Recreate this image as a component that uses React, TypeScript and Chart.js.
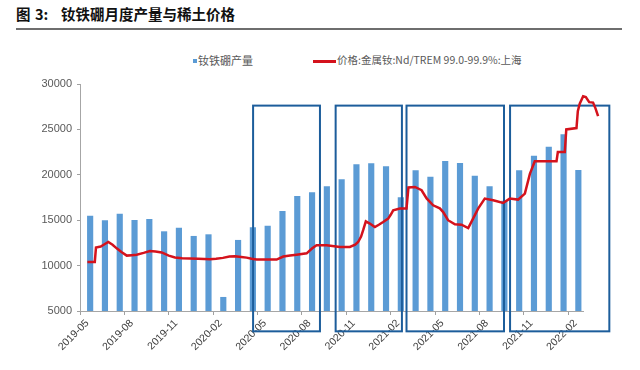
import React, { useEffect, useRef } from "react";
import { Chart, registerables } from "chart.js";

Chart.register(...registerables);

// ---- data ----
const months = [
  "2019-05", "2019-06", "2019-07", "2019-08", "2019-09", "2019-10", "2019-11", "2019-12",
  "2020-01", "2020-02", "2020-03", "2020-04", "2020-05", "2020-06", "2020-07", "2020-08",
  "2020-09", "2020-10", "2020-11", "2020-12", "2021-01", "2021-02", "2021-03", "2021-04",
  "2021-05", "2021-06", "2021-07", "2021-08", "2021-09", "2021-10", "2021-11", "2021-12",
  "2022-01", "2022-02",
];

const production = [
  15460, 14950, 15680, 14990, 15100, 13740, 14140, 13230, 13410, 6510,
  12790, 14180, 14360, 15980, 17630, 18040, 18700, 19470, 21120, 21230,
  20900, 17490, 20460, 19760, 21490, 21270, 19870, 18700, 17100, 20460,
  22070, 23060, 24430, 20500,
];

// price line: position in months from 2019-05, value on the same scale
const priceMonth = [
  0.0, 0.5, 0.58, 0.9, 1.1, 1.41, 1.7, 1.98, 2.3, 2.66, 3.0, 3.33, 3.8, 4.23, 4.6, 5.02,
  5.5, 5.92, 6.4, 6.93, 7.5, 8.28, 8.7, 9.16, 9.6, 9.97, 10.4, 10.76, 11.1, 11.44, 12.34,
  12.79, 13.24, 13.7, 14.14, 14.82, 15.2, 15.49, 16.17, 17.07, 17.74, 18.1, 18.3, 18.5,
  18.64, 18.82, 19.09, 19.43, 19.7, 19.99, 20.33, 20.5, 20.67, 21.12, 21.57, 21.7, 22.14,
  22.59, 22.93, 23.37, 23.82, 24.05, 24.38, 24.84, 25.29, 25.74, 26.07, 26.41, 26.86,
  27.43, 28.1, 28.55, 29.11, 29.57, 29.91, 30.24, 31.71, 31.8, 32.27, 32.37, 33.06, 33.15,
  33.28, 33.51, 33.69, 33.92, 34.18, 34.35, 34.52,
];
const priceValue = [
  10400, 10400, 12000, 12100, 12300, 12600, 12300, 11900, 11500, 11100, 11150, 11200,
  11400, 11600, 11550, 11450, 11100, 10900, 10800, 10770, 10750, 10700, 10750, 10850,
  11000, 11020, 10950, 10880, 10750, 10660, 10660, 10660, 11000, 11100, 11200, 11350,
  11900, 12240, 12240, 12050, 12050, 12300, 12600, 13200, 13900, 14880, 14630, 14250,
  14500, 14800, 15180, 15600, 16090, 16280, 16280, 18600, 18660, 18300, 17400, 16640,
  16300, 15900, 15000, 14550, 14500, 14140, 15180, 16280, 17380, 17190, 16900, 17380,
  17270, 17930, 20100, 21490, 21490, 22500, 22500, 25000, 25150, 27000, 27840, 28650,
  28570, 28000, 27950, 27290, 26470,
];

// highlight boxes, in month units and value units
const boxStart = [11.2, 16.78, 21.57, 28.57];
const boxEnd = [15.72, 21.26, 28.16, 35.28];
const boxTop = 27620;
const boxBottom = 2760;

const yTicks = [5000, 10000, 15000, 20000, 25000, 30000];

const seriesBarName = "钕铁硼产量";
const seriesLineName = "价格:金属钕:Nd/TREM 99.0-99.9%:上海";
const titleText = "钕铁硼月度产量与稀土价格";

const BAR_COLOR = "#5b9bd5";
const LINE_COLOR = "#d4121c";
const BOX_COLOR = "#1c5d9b";

const boxPlugin = {
  id: "boxes",
  afterDatasetDraw(chart: any, args: any) {
    if (args.index !== 1) return;
    const xs = chart.scales.xLine;
    const ys = chart.scales.y;
    const ctx = chart.ctx;
    ctx.save();
    ctx.strokeStyle = BOX_COLOR;
    ctx.lineWidth = 2;
    for (let i = 0; i < boxStart.length; i++) {
      const l = xs.getPixelForValue(boxStart[i]);
      const r = xs.getPixelForValue(boxEnd[i]);
      const t = ys.getPixelForValue(boxTop);
      const b = ys.getPixelForValue(boxBottom);
      ctx.strokeRect(l, t, r - l, b - t);
    }
    ctx.restore();
  },
};

export default function App() {
  const ref = useRef<HTMLCanvasElement | null>(null);

  useEffect(() => {
    if (!ref.current) return;
    const chart = new Chart(ref.current, {
      type: "bar",
      data: {
        labels: months,
        datasets: [
          {
            type: "line",
            label: seriesLineName,
            data: priceMonth.map((m, i) => ({ x: m, y: priceValue[i] })),
            xAxisID: "xLine",
            yAxisID: "y",
            borderColor: LINE_COLOR,
            borderWidth: 2.5,
            pointRadius: 0,
            tension: 0,
            clip: false,
          } as any,
          {
            type: "bar",
            label: seriesBarName,
            data: production,
            xAxisID: "x",
            yAxisID: "y",
            backgroundColor: BAR_COLOR,
            barThickness: 5.5,
          } as any,
        ],
      },
      options: {
        animation: false,
        responsive: false,
        devicePixelRatio: 1,
        layout: { padding: { left: 0, right: 57, top: 84, bottom: 0 } },
        plugins: { legend: { display: false }, tooltip: { enabled: false } },
        scales: {
          x: {
            type: "category",
            offset: true,
            weight: 1,
            grid: {
              display: true,
              drawOnChartArea: false,
              drawTicks: true,
              tickLength: 4,
              offset: true,
              tickColor: (c: any) => (c.index % 3 === 0 ? "#a0a0a0" : "rgba(0,0,0,0)"),
            },
            border: { display: true, color: "#a6a6a6", width: 1 },
            ticks: {
              autoSkip: false,
              minRotation: 45,
              maxRotation: 45,
              padding: 2,
              color: "#404040",
              font: { size: 10.5, family: "'Liberation Sans', Arial, sans-serif" },
              callback: (_v: any, i: number) => (i % 3 === 0 ? months[i] : ""),
            },
            afterFit: (s: any) => {
              s.height = 59;
            },
          },
          xLine: {
            type: "linear",
            position: "bottom",
            display: true,
            offset: false,
            weight: 2,
            bounds: "data",
            grid: { display: false, drawTicks: false, offset: false },
            border: { display: false },
            ticks: { display: false },
            afterDataLimits: (s: any) => {
              s.min = -0.5;
              s.max = 33.5;
            },
            afterFit: (s: any) => {
              s.height = 0;
            },
          },
          y: {
            type: "linear",
            min: 5000,
            max: 30000,
            afterBuildTicks: (s: any) => {
              s.ticks = yTicks.map((v) => ({ value: v }));
            },
            grid: {
              display: true,
              drawOnChartArea: false,
              drawTicks: true,
              tickLength: 3,
              tickColor: "#a0a0a0",
            },
            border: { display: true, color: "#a6a6a6", width: 1 },
            ticks: {
              padding: 5,
              color: "#595959",
              font: { size: 11, family: "'Liberation Sans', Arial, sans-serif" },
              callback: (v: any) => String(v),
            },
            afterFit: (s: any) => {
              s.width = 80;
            },
          },
        } as any,
      },
      plugins: [boxPlugin],
    });
    return () => chart.destroy();
  }, []);

  const cjk = "'Noto Sans CJK SC', 'Noto Sans', sans-serif";

  return (
    <div
      style={{
        position: "fixed",
        left: 0,
        top: 0,
        width: 640,
        height: 370,
        background: "#fff",
        overflow: "hidden",
      }}
    >
      <div
        style={{
          position: "absolute",
          left: 16,
          top: 4,
          fontFamily: cjk,
          fontWeight: 700,
          fontSize: 14.5,
          color: "#111",
          whiteSpace: "pre",
          lineHeight: "20px",
        }}
      >
        <span>图</span>
        <span style={{ position: "absolute", left: 19 }}>3:</span>
        <span style={{ position: "absolute", left: 45 }}>{titleText}</span>
      </div>
      <div
        style={{
          position: "absolute",
          left: 16,
          top: 28,
          width: 606,
          height: 2,
          background: "#6e6e6e",
        }}
      />
      <div
        style={{
          position: "absolute",
          left: 193,
          top: 59,
          width: 4,
          height: 4,
          background: BAR_COLOR,
        }}
      />
      <div
        style={{
          position: "absolute",
          left: 198,
          top: 53,
          fontFamily: cjk,
          fontSize: 11,
          color: "#595959",
          lineHeight: "14px",
          whiteSpace: "pre",
        }}
      >
        {seriesBarName}
      </div>
      <div
        style={{
          position: "absolute",
          left: 313,
          top: 60,
          width: 23,
          height: 2.5,
          background: LINE_COLOR,
        }}
      />
      <div
        style={{
          position: "absolute",
          left: 337,
          top: 53,
          fontFamily: cjk,
          fontSize: 10.5,
          color: "#595959",
          lineHeight: "14px",
          whiteSpace: "pre",
        }}
      >
        {seriesLineName}
      </div>
      <canvas
        ref={ref}
        width={640}
        height={370}
        style={{ position: "absolute", left: 0, top: 0, width: 640, height: 370 }}
      />
    </div>
  );
}
